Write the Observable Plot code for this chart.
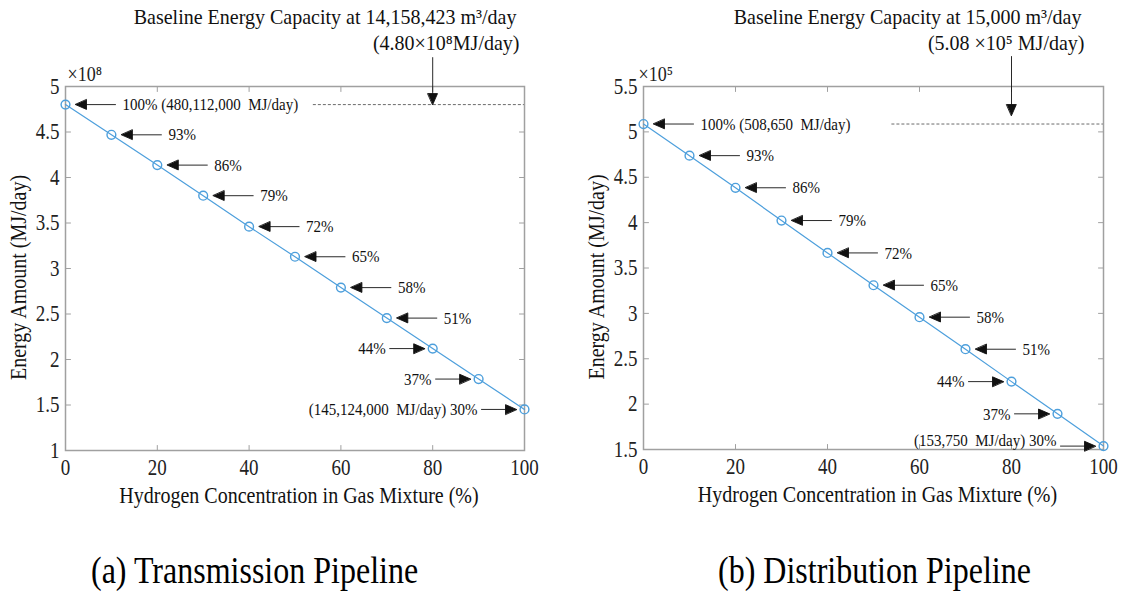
<!DOCTYPE html>
<html>
<head>
<meta charset="utf-8">
<script src="https://cdn.jsdelivr.net/npm/d3@7"></script>
<script src="https://cdn.jsdelivr.net/npm/@observablehq/plot@0.6"></script>
<style>
  html, body { margin: 0; padding: 0; background: #fff; }
  body { width: 1122px; height: 596px; position: relative; overflow: hidden;
         font-family: "Liberation Serif", "Times New Roman", serif; }
  .panel { position: absolute; top: 0; }
  #panelA { left: 0; }
  #panelB { left: 561px; }
  .caption { position: absolute; font-size: 32px; line-height: 1; color: #000; white-space: nowrap;
             transform: scaleY(1.2); transform-origin: 0 100%; }
  #capA { left: 91px; top: 557px; }
  #capB { left: 718px; top: 557px; }
</style>
</head>
<body>
<div id="panelA" class="panel"></div>
<div id="panelB" class="panel"></div>
<div id="capA" class="caption"></div>
<div id="capB" class="caption"></div>
<script>
// ---------------- data ----------------
const hydrogen = [0, 10, 20, 30, 40, 50, 60, 70, 80, 90, 100];            // % H2 in mixture
const energyPercent = [100, 93, 86, 79, 72, 65, 58, 51, 44, 37, 30];      // % of baseline energy
const labelSide = ["right", "right", "right", "right", "right", "right", "right", "right", "left", "left", "left"];

// MJ/day
const transmissionEnergy = [480112000, 446900000, 413600000, 380000000, 346000000, 312900000,
                            279000000, 245500000, 212000000, 178500000, 145124000];
const distributionEnergy = [508650, 473800, 438400, 402300, 366600, 331000,
                            295800, 260500, 224800, 189300, 153750];

const xTicks = [0, 20, 40, 60, 80, 100];
const transmissionYTicks = [1, 1.5, 2, 2.5, 3, 3.5, 4, 4.5, 5];
const distributionYTicks = [1.5, 2, 2.5, 3, 3.5, 4, 4.5, 5, 5.5];

const transmissionEndLabels = ["100% (480,112,000 \u00a0MJ/day)", "(145,124,000 \u00a0MJ/day) 30%"];
const distributionEndLabels = ["100% (508,650 \u00a0MJ/day)", "(153,750 \u00a0MJ/day) 30%"];

const transmissionTitle = ["Baseline Energy Capacity at 14,158,423 m\u00b3/day", "(4.80\u00d710\u2078MJ/day)"];
const distributionTitle = ["Baseline Energy Capacity at 15,000 m\u00b3/day", "(5.08 \u00d710\u2075 MJ/day)"];
const transmissionMultiplier = "\u00d710\u2078";
const distributionMultiplier = "\u00d710\u2075";

const baselineArrowAt = 80;       // x position of the "Baseline" pointer
const baselineDashFrom = 54;      // dashed baseline starts here

const xTitle = "Hydrogen Concentration in Gas Mixture (%)";
const yTitle = "Energy Amount (MJ/day)";
const captions = ["(a) Transmission Pipeline", "(b) Distribution Pipeline"];

// ---------------- styling ----------------
const serif = "'Liberation Serif', 'Times New Roman', serif";
const blue = "#4d9fdc";
const frameGray = "#a0a0a0";
const ink = "#111";
const textStretch = 1.18;   // the original figure's lettering is taller than it is wide
const titleStretch = 1.1;

const arrowShape = {
  draw(ctx, l) {
    const h = 11, w = 4.8;
    ctx.moveTo(0, 0);
    ctx.lineTo(0, -l + h);
    ctx.moveTo(0, -l);
    ctx.lineTo(-w, -l + h);
    ctx.lineTo(w, -l + h);
    ctx.closePath();
  }
};
const tickShape = { draw(ctx, l) { ctx.moveTo(0, 0); ctx.lineTo(0, -l); } };

function makeLabels(endLabels) {
  return energyPercent.map((p, i) =>
    i === 0 ? endLabels[0] : i === energyPercent.length - 1 ? endLabels[1] : `${p}%`);
}

function makePanel(p) {
  const labels = makeLabels(p.endLabels);
  const rows = hydrogen.map((h, i) => ({ h, v: p.values[i] / p.unit, label: labels[i], side: labelSide[i] }));
  const after = rows.filter(d => d.side === "right");
  const before = rows.filter(d => d.side === "left");
  const beforeMid = before.slice(0, -1);
  const beforeLast = before.slice(-1);
  const base = [{ h: baselineArrowAt, v: rows[0].v }];
  const H = 520;
  const tickOpts = { length: 5, anchor: "start", shape: tickShape, stroke: frameGray, strokeWidth: 1 };
  return Plot.plot({
    width: 561,
    height: H,
    marginLeft: p.ml,
    marginRight: p.mr,
    marginTop: p.mt,
    marginBottom: H - p.bottom,
    style: { fontFamily: serif, background: "transparent", overflow: "visible", color: ink },
    x: { domain: [0, 100] },
    y: { domain: [p.yTicks[0], p.yTicks[p.yTicks.length - 1]] },
    marks: [
      Plot.ruleY([rows[0].v], { x1: baselineDashFrom, x2: 100, stroke: "#444", strokeWidth: 0.8, strokeDasharray: "3,2" }),
      Plot.frame({ stroke: frameGray, strokeWidth: 1.5 }),
      Plot.vector(xTicks, { x: d => d, frameAnchor: "bottom", rotate: 0, ...tickOpts }),
      Plot.vector(xTicks, { x: d => d, frameAnchor: "top", rotate: 180, ...tickOpts }),
      Plot.vector(p.yTicks, { y: d => d, frameAnchor: "left", rotate: 90, ...tickOpts }),
      Plot.vector(p.yTicks, { y: d => d, frameAnchor: "right", rotate: -90, ...tickOpts }),
      Plot.axisX({ ticks: xTicks, tickSize: 0, tickPadding: 9, fontSize: 19, tickFormat: d => `${d}`, label: null, fill: "#222" }),
      Plot.axisY({ ticks: p.yTicks, tickSize: 0, tickPadding: 6, fontSize: 19, tickFormat: d => `${d}`, label: null, fill: "#222" }),
      Plot.line(rows, { x: "h", y: "v", stroke: blue, strokeWidth: 1.2 }),
      Plot.dot(rows, { x: "h", y: "v", r: 4.4, stroke: blue, strokeWidth: 1.4, fill: "none" }),
      // annotation arrows
      Plot.vector(after, { x: "h", y: "v", anchor: "end", rotate: -90, length: 40, dx: 10, shape: arrowShape, stroke: ink, fill: ink, strokeWidth: 0.9 }),
      Plot.vector(before, { x: "h", y: "v", anchor: "end", rotate: 90, length: 35, dx: -8, shape: arrowShape, stroke: ink, fill: ink, strokeWidth: 0.9 }),
      Plot.text(after, { x: "h", y: "v", text: "label", textAnchor: "start", dx: 57, fontSize: 15, fill: ink }),
      Plot.text(beforeMid, { x: "h", y: "v", text: "label", textAnchor: "end", dx: -47, fontSize: 15, fill: ink }),
      Plot.text(beforeLast, { x: "h", y: "v", text: "label", textAnchor: "end", dx: -47, dy: p.lastDy, fontSize: 15, fill: ink }),
      // baseline pointer and title
      Plot.vector(base, { x: "h", y: "v", anchor: "end", rotate: 180, length: p.arrowLen, dy: p.arrowDy, shape: arrowShape, stroke: ink, fill: ink, strokeWidth: 0.9 }),
      Plot.text([p.title[0]], { frameAnchor: "top-right", textAnchor: "end", lineAnchor: "bottom", dx: p.titleDx[0], dy: -63, fontSize: 20, fill: ink }),
      Plot.text([p.title[1]], { frameAnchor: "top-right", textAnchor: "end", lineAnchor: "bottom", dx: p.titleDx[1], dy: -37, fontSize: 20, fill: ink }),
      // multiplier
      Plot.text([p.multiplier], { frameAnchor: "top-left", textAnchor: "start", lineAnchor: "bottom", dx: p.multDx, dy: p.multDy, fontSize: 18, fill: "#222" }),
      // axis titles
      Plot.text([xTitle], { frameAnchor: "bottom", textAnchor: "middle", lineAnchor: "bottom", dy: 52, dx: 4, fontSize: 20, fill: ink }),
      Plot.text([yTitle], { frameAnchor: "left", textAnchor: "middle", rotate: -90, dx: -47, dy: 9, fontSize: 20, fill: ink })
    ]
  });
}

const titleTexts = new Set([...transmissionTitle, ...distributionTitle]);
function stretchText(svg) {
  svg.querySelectorAll("text").forEach(el => {
    const w = el.getComputedTextLength();
    const fs = parseFloat(getComputedStyle(el).fontSize);
    if (!w || !fs) return;
    const k = titleTexts.has(el.textContent) ? titleStretch : textStretch;
    el.style.fontSize = (fs * k) + "px";
    el.setAttribute("textLength", w);
    el.setAttribute("lengthAdjust", "spacingAndGlyphs");
  });
}

const svgA = makePanel({
  values: transmissionEnergy, unit: 1e8, yTicks: transmissionYTicks, endLabels: transmissionEndLabels,
  title: transmissionTitle, multiplier: transmissionMultiplier,
  ml: 65, mr: 37, mt: 86, bottom: 450, lastDy: 0,
  arrowLen: 47, arrowDy: 0, titleDx: [-8, -5], multDx: 2, multDy: -6
});
const svgB = makePanel({
  values: distributionEnergy, unit: 1e5, yTicks: distributionYTicks, endLabels: distributionEndLabels,
  title: distributionTitle, multiplier: distributionMultiplier,
  ml: 82, mr: 19, mt: 86, bottom: 449, lastDy: -6,
  arrowLen: 59, arrowDy: -8.5, titleDx: [-22, -19], multDx: -5, multDy: -6
});
document.getElementById("panelA").append(svgA);
document.getElementById("panelB").append(svgB);
stretchText(svgA);
stretchText(svgB);
document.getElementById("capA").textContent = captions[0];
document.getElementById("capB").textContent = captions[1];
</script>
</body>
</html>
